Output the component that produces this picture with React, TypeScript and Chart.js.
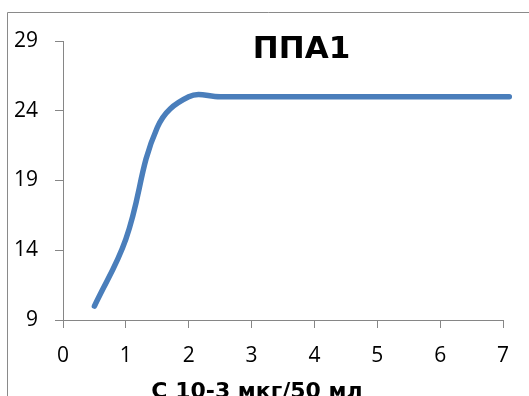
import React, { useEffect, useRef } from "react";
import { Chart, registerables } from "chart.js";

Chart.register(...registerables);

const chartTitle = "ППА1";
const xAxisTitle = "С 10-3 мкг/50 мл";
const xValues = [0.5, 1, 1.5, 2, 2.5, 3, 4, 5, 6, 7.1];
const yValues = [10, 14.8, 22.8, 25, 25, 25, 25, 25, 25, 25];
const xMin = 0;
const xMax = 7;
const xStep = 1;
const yMin = 9;
const yMax = 29;
const yStep = 5;

const FONT = '"Open Sans", "Noto Sans", sans-serif';
const TITLE_FONT = '"DejaVu Sans", "Open Sans", sans-serif';
const AXIS_GRAY = "#868686";

const textPlugin = {
  id: "excelTexts",
  afterDraw(chart: any) {
    const ctx = chart.ctx;
    const ca = chart.chartArea;
    ctx.save();
    // outer chart border
    ctx.strokeStyle = "#8a8a8a";
    ctx.lineWidth = 1;
    ctx.beginPath();
    ctx.moveTo(7.5, chart.height + 2);
    ctx.lineTo(7.5, 12.5);
    ctx.lineTo(chart.width + 2, 12.5);
    ctx.stroke();
    // chart title
    ctx.fillStyle = "#000";
    ctx.textAlign = "center";
    ctx.textBaseline = "alphabetic";
    ctx.font = "bold 31px " + TITLE_FONT;
    ctx.fillText(chartTitle, ca.left + (ca.right - ca.left) * 0.542, 58);
    // x axis title
    ctx.font = "bold 22px " + TITLE_FONT;
    ctx.fillText(xAxisTitle, 257, 398);
    ctx.restore();
  },
};

export default function App() {
  const ref = useRef<HTMLCanvasElement | null>(null);
  useEffect(() => {
    if (!ref.current) return;
    const data = xValues.map((x, i) => ({ x, y: yValues[i] }));
    const chart = new Chart(ref.current, {
      type: "scatter",
      data: {
        datasets: [
          {
            data,
            showLine: true,
            clip: false,
            borderColor: "#4A7EBB",
            backgroundColor: "#4A7EBB",
            borderWidth: 5.5,
            borderCapStyle: "round",
            borderJoinStyle: "round",
            pointRadius: 0,
            tension: 0.4,
          } as any,
        ],
      },
      options: {
        responsive: false,
        animation: false,
        layout: { padding: { top: 41, right: 26, left: 0, bottom: 0 } },
        plugins: {
          legend: { display: false },
          tooltip: { enabled: false },
          title: { display: false },
        },
        scales: {
          x: {
            type: "linear",
            min: xMin,
            max: xMax,
            afterFit: (s: any) => {
              s.height = 76;
            },
            ticks: {
              stepSize: xStep,
              color: "#000",
              font: { family: FONT, size: 21 },
              padding: 15,
              maxRotation: 0,
            },
            grid: {
              drawOnChartArea: false,
              drawTicks: true,
              tickLength: 8,
              color: AXIS_GRAY,
            },
            border: { display: true, color: AXIS_GRAY, width: 1 },
          },
          y: {
            type: "linear",
            min: yMin,
            max: yMax,
            afterFit: (s: any) => {
              s.width = 63;
            },
            ticks: {
              stepSize: yStep,
              color: "#000",
              font: { family: FONT, size: 21 },
              padding: 17,
            },
            grid: {
              drawOnChartArea: false,
              drawTicks: true,
              tickLength: 8,
              color: AXIS_GRAY,
            },
            border: { display: true, color: AXIS_GRAY, width: 1 },
          },
        },
      },
      plugins: [textPlugin],
    });
    return () => chart.destroy();
  }, []);
  return (
    <div style={{ position: "fixed", left: 0, top: 0, width: 529, height: 396, background: "#fff" }}>
      <canvas ref={ref} width={529} height={396} style={{ display: "block" }} />
    </div>
  );
}
